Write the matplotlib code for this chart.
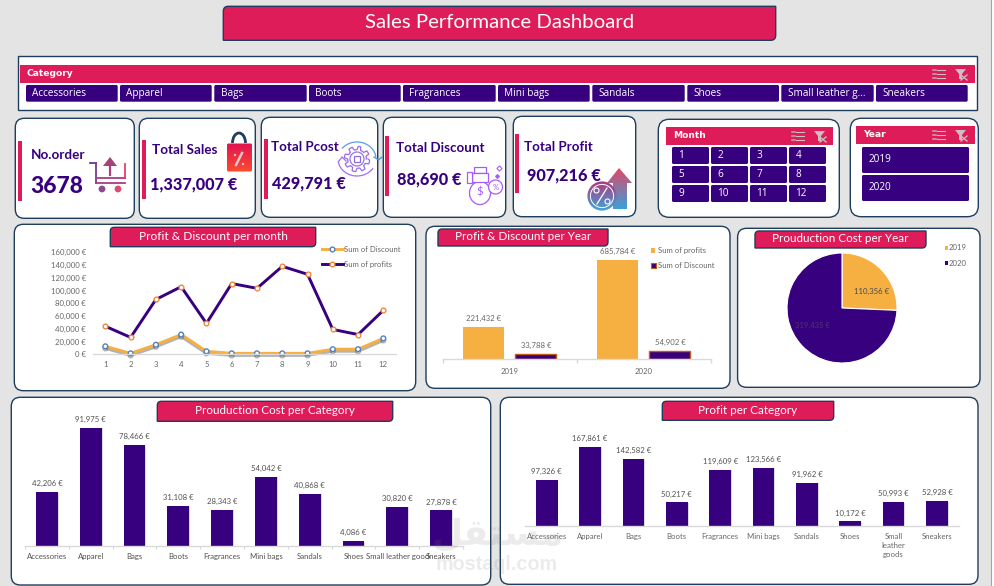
import numpy as np
import matplotlib
matplotlib.use("Agg")
import matplotlib.pyplot as plt
import matplotlib.patheffects as pe
from matplotlib.colors import LinearSegmentedColormap, to_rgb
from matplotlib.patches import FancyBboxPatch, Rectangle, Circle, Polygon, PathPatch, Arc, Ellipse
from matplotlib.path import Path
from matplotlib.ticker import FuncFormatter, FixedLocator

# ---- data -----------------------------------------------------------------
months = [1, 2, 3, 4, 5, 6, 7, 8, 9, 10, 11, 12]
month_profit = [44000, 26500, 86000, 106000, 48500, 111000, 103500, 138000, 125500, 39000, 31000, 69000]
month_discount = [12500, 1500, 15000, 31000, 4700, 1500, 1500, 1500, 1500, 8000, 8000, 25000]

years = ["2019", "2020"]
year_profit = [221432, 685784]
year_discount = [33788, 54902]
year_cost = [110356, 319435]

cost_labels = ["Accessories", "Apparel", "Bags", "Boots", "Fragrances", "Mini bags",
               "Sandals", "Shoes", "Small leather good", "Sneakers"]
category_cost = [42206, 91975, 78466, 31108, 28343, 54042, 40868, 4086, 30820, 27878]
category_profit = [97326, 167861, 142582, 50217, 119609, 123566, 91962, 10172, 50993, 52928]
profit_labels = ["Accessories", "Apparel", "Bags", "Boots", "Fragrances", "Mini bags",
                 "Sandals", "Shoes", "Small\nleather\ngoods", "Sneakers"]

slicer_categories = ["Accessories", "Apparel", "Bags", "Boots", "Fragrances", "Mini bags",
                     "Sandals", "Shoes", "Small leather g...", "Sneakers"]

kpi_orders = "3678"
kpi_sales = "1,337,007 €"
kpi_cost = "429,791 €"
kpi_discount = "88,690 €"
kpi_profit = "907,216 €"

# ---- style ----------------------------------------------------------------
W, H = 994, 586
BG = "#E4E4E4"
CRIMSON = "#DE1C5A"
PURPLE = "#37007F"
AMBER = "#F5B041"
EDGE = "#1F3D5C"
GREY = "#666666"
AXIS = "#D9D9D9"
FONT = "Lato"
BTN_FONT = "Open Sans"

plt.rcParams["font.family"] = FONT
fig = plt.figure(figsize=(W / 100, H / 100), dpi=100, facecolor=BG)


def overlay(z):
    ax = fig.add_axes([0, 0, 1, 1], zorder=z)
    ax.set_xlim(0, W)
    ax.set_ylim(H, 0)
    ax.axis("off")
    ax.patch.set_alpha(0)
    ax.autoscale(False)
    return ax


def px_axes(x0, y0, x1, y1, z=2):
    ax = fig.add_axes([x0 / W, 1 - y1 / H, (x1 - x0) / W, (y1 - y0) / H], zorder=z)
    ax.patch.set_alpha(0)
    return ax


under = overlay(0)
over = overlay(5)


def card(x0, y0, x1, y1, r=9):
    under.add_patch(FancyBboxPatch((x0, y0), x1 - x0, y1 - y0,
                                   boxstyle=f"round,pad=0,rounding_size={r}",
                                   fc="white", ec=EDGE, lw=1))


def box(ax, x0, y0, x1, y1, color, r=0):
    if r:
        ax.add_patch(FancyBboxPatch((x0, y0), x1 - x0, y1 - y0,
                                    boxstyle=f"round,pad=0,rounding_size={r}", fc=color, ec="none"))
    else:
        ax.add_patch(Rectangle((x0, y0), x1 - x0, y1 - y0, fc=color, ec="none"))


def banner(x0, y0, x1, y1, text, size, r=4):
    # Top-left and bottom-right corners are rounded, the other two are square.
    verts = [(x0 + r, y0), (x1, y0), (x1, y1 - r), (x1, y1), (x1 - r, y1),
             (x0, y1), (x0, y0 + r), (x0, y0), (x0 + r, y0)]
    codes = [Path.MOVETO, Path.LINETO, Path.LINETO, Path.CURVE3, Path.CURVE3,
             Path.LINETO, Path.LINETO, Path.CURVE3, Path.CURVE3]
    over.add_patch(PathPatch(Path(verts, codes), fc=CRIMSON, ec=EDGE, lw=1))
    over.text((x0 + x1) / 2, (y0 + y1) / 2 - 0.5, text, color="white", fontsize=size,
              ha="center", va="center")


def button(x0, y0, x1, y1, text):
    box(over, x0, y0, x1, y1, PURPLE, r=1.5)
    over.text(x0 + 6.5, (y0 + y1) / 2 - 0.3, text, color="white", fontsize=7.2,
              family=BTN_FONT, ha="left", va="center")


def slicer_icons(x_list, x_funnel, yc):
    for dy in (-4, 0, 4):
        over.plot([x_list + 4, x_list + 12], [yc + dy, yc + dy], color="#D2BCC4", lw=0.8)
        over.plot([x_list, x_list + 2.5], [yc + dy, yc + dy], color="#BFA9B1", lw=1.1)
    over.add_patch(Polygon([(x_funnel, yc - 5), (x_funnel + 11, yc - 5), (x_funnel + 7, yc),
                            (x_funnel + 7, yc + 5), (x_funnel + 4, yc + 5), (x_funnel + 4, yc)],
                           fc="#CDBFC4", ec="none"))
    over.plot([x_funnel + 6, x_funnel + 12], [yc + 1, yc + 6], color="#C9B9BF", lw=1)
    over.plot([x_funnel + 12, x_funnel + 6], [yc + 1, yc + 6], color="#C9B9BF", lw=1)


def mix(c0, c1, t):
    a, b = np.array(to_rgb(c0)), np.array(to_rgb(c1))
    return tuple(a + (b - a) * t)


def gradient_patch(patch, c0, c1, extent, horizontal=False):
    # Paint a two-colour ramp over the box and keep only what falls inside the patch.
    x0, x1, y0, y1 = extent
    ramp = np.linspace(0, 1, 64)
    ramp = ramp[None, :] if horizontal else ramp[:, None]
    cmap = LinearSegmentedColormap.from_list("ramp", [c0, c1])
    over.add_patch(patch)
    patch.set_facecolor("none")
    patch.set_edgecolor("none")
    im = over.imshow(ramp, extent=(x0, x1, y1, y0), cmap=cmap, aspect="auto", origin="upper", zorder=6)
    im.set_clip_path(patch)


# ---- page furniture -------------------------------------------------------
box(under, 991, 0, 994, H, "#FFFFFF")
under.plot([991, 991], [0, H], color="#A6A6A6", lw=0.8)
banner(223.3, 6.3, 775.7, 40.3, "Sales Performance Dashboard", 14.7, r=5)

# category slicer
under.add_patch(Rectangle((18.3, 56.3), 959, 54, fc="white", ec=EDGE, lw=1))
box(over, 20, 65, 975, 82.7, CRIMSON)
over.text(26.7, 73.7, "Category", color="white", fontsize=6.6, weight="bold",
          family="DejaVu Sans", ha="left", va="center")
slicer_icons(933, 955, 74)
button_edges = [(26, 117.7), (120, 211.7), (214.3, 306.7), (309, 400.7), (403, 495.7),
                (498, 589.7), (592.3, 684.7), (687.3, 779), (781.3, 873.7), (876, 967.7)]
for (bx0, bx1), name in zip(button_edges, slicer_categories):
    button(bx0, 85, bx1, 101.7, name)

# KPI cards
card(15.3, 118.3, 134.3, 218.3)
card(139.3, 118.3, 255.3, 218.3)
card(261.3, 117.3, 377.7, 217.3)
card(383.3, 117.3, 505.7, 217.3)
card(513.3, 116.3, 635.7, 216.7)
box(under, 18, 141, 22, 200.7, CRIMSON)
box(under, 142, 140, 146, 199.3, CRIMSON)
box(under, 264, 139, 268, 198.7, CRIMSON)
box(under, 385, 136, 389, 195.7, CRIMSON)
box(under, 515, 134, 519, 193.3, CRIMSON)

kpi_text = [
    (30.7, 155, "No.order", 9.7), (30.7, 186.5, kpi_orders, 16.4),
    (152, 150.5, "Total Sales", 9.7), (150, 184, kpi_sales, 11.7),
    (271, 147, "Total Pcost", 9.6), (272, 183.5, kpi_cost, 11.7),
    (396, 148, "Total Discount", 9.6), (397, 179, kpi_discount, 11.7),
    (524, 147, "Total Profit", 9.6), (527, 175, kpi_profit, 11.7),
]
for tx, ty, label, size in kpi_text:
    under.text(tx, ty, label, color=PURPLE, fontsize=size, weight="black" if size > 11 else "bold",
               ha="left", va="center")

# month and year slicers
card(658.3, 119.3, 839.3, 217.3, r=11)
card(850.3, 118.3, 978.3, 216.7, r=11)
box(over, 666, 127, 833, 144.7, CRIMSON)
over.text(673, 135.7, "Month", color="white", fontsize=6.6, weight="bold",
          family="DejaVu Sans", ha="left", va="center")
slicer_icons(792, 814, 136)
box(over, 856, 126, 975, 144, CRIMSON)
over.text(863, 134.7, "Year", color="white", fontsize=6.6, weight="bold",
          family="DejaVu Sans", ha="left", va="center")
slicer_icons(933, 955, 135)
col_edges = [(672, 709), (711, 748), (750, 787), (789, 826)]
row_edges = [(147, 164), (166, 183), (185, 202)]
for idx, m in enumerate(months):
    (cx0, cx1), (ry0, ry1) = col_edges[idx % 4], row_edges[idx // 4]
    button(cx0, ry0, cx1, ry1, str(m))
button(862, 147, 969, 173, years[0])
button(862, 175, 969, 201, years[1])

# ---- KPI pictograms -------------------------------------------------------
# shopping cart with an upward arrow
for (xa, ya), (xb, yb) in [((90, 163), (95.5, 163)), ((95.5, 163), (95.5, 183)),
                           ((95.5, 178), (125, 178)), ((125, 164), (125, 178)),
                           ((95.5, 183), (125, 183))]:
    over.plot([xa, xb], [ya, yb], lw=1.3, solid_capstyle="projecting",
              color=mix("#5A3A9E", "#E0406A", ((xa + xb) / 2 - 90) / 35))
over.add_patch(Polygon([(103, 166), (110, 157), (117, 166)], fc="#A8407A", ec="none"))
over.plot([110, 110], [166, 175], color="#A8407A", lw=1.6)
over.add_patch(Circle((102, 189), 3.4, fc="#8A4A90", ec="none"))
over.add_patch(Circle((118, 189), 3.4, fc="#DE4A70", ec="none"))

# shopping bag
over.add_patch(Arc((239, 143), 13, 20, theta1=180, theta2=360, color="#1F3D5C", lw=2, zorder=5))
gradient_patch(FancyBboxPatch((227, 143.5), 25, 28, boxstyle="round,pad=0,rounding_size=1.5"),
               "#E0144F", "#FF4A2E", (226, 253, 143, 172))
over.plot([236, 242], [165, 153], color="#E8C8D0", lw=1.8, zorder=7)
over.add_patch(Circle((235, 155), 1.2, fc="#E8C8D0", ec="none", zorder=7))
over.add_patch(Circle((243, 164), 1.2, fc="#E8C8D0", ec="none", zorder=7))

# gear with two circular arrows
gx, gy = 357, 159
angles = np.linspace(0, 2 * np.pi, 65)
radii = 11 + 1.7 * np.sign(np.sin(angles * 8))
over.plot(gx + radii * np.cos(angles), gy + radii * np.sin(angles), color="#9B6BE8", lw=0.9)
over.add_patch(Circle((gx, gy), 7, fc="none", ec="#8F78E0", lw=0.9))
over.add_patch(Rectangle((gx - 3, gy - 3), 6, 6, fc="none", ec="#8F6BD8", lw=0.9))
over.add_patch(Arc((gx, gy), 38, 34, theta1=215, theta2=355, color="#5C9CE6", lw=0.9, zorder=5))
over.add_patch(Arc((gx, gy), 38, 34, theta1=30, theta2=175, color="#A66CF0", lw=0.9, zorder=5))
over.plot([374, 378.5, 382], [157, 160, 157], color="#3A9AD8", lw=0.9)
over.plot([339, 342, 346], [161, 157, 161], color="#A66CF0", lw=0.9)

# money bag with coin and sparkles
MB = "#A85CF5"
over.add_patch(Ellipse((480, 193), 21, 23, fc="white", ec=MB, lw=0.9))
over.add_patch(Rectangle((474, 167), 12, 6, fc="white", ec=MB, lw=0.9))
over.add_patch(Rectangle((472, 173), 16, 9, fc="white", ec=MB, lw=0.9))
over.add_patch(Rectangle((467, 172), 4.5, 11, fc="white", ec=MB, lw=0.9))
over.text(480, 192, "$", color=MB, fontsize=8, ha="center", va="center")
over.add_patch(Circle((495.5, 187), 7, fc="white", ec=MB, lw=0.9))
over.text(495.5, 187, "%", color=MB, fontsize=5.5, ha="center", va="center")
over.plot([499], [168], marker="D", ms=2.6, mfc="none", mec=MB, mew=0.8)
over.plot([497], [175.5], marker="D", ms=1.8, color=MB)

# percent badge in front of a rising arrow
gradient_patch(PathPatch(Path([(619, 168), (632, 183), (627, 183), (627, 209), (613, 209), (613, 183),
                               (607, 183), (619, 168)], closed=True)),
               "#E0486A", "#3AA0D8", (605, 634, 168, 209))
gradient_patch(Circle((602, 196), 14.6), "#B0387E", "#3CA6DA", (587, 617, 181, 211))
over.add_patch(Circle((602, 196), 11.6, fc="none", ec="white", lw=0.7, zorder=7))
over.plot([597, 607], [204, 188], color="white", lw=0.9, zorder=7)
over.add_patch(Circle((596.5, 190.5), 2.5, fc="none", ec="white", lw=0.8, zorder=7))
over.add_patch(Circle((607.5, 201.5), 2.5, fc="none", ec="white", lw=0.8, zorder=7))

# ---- chart cards ----------------------------------------------------------
card(14.3, 224.3, 415.7, 390.7)
card(426, 226.3, 730, 388.3)
card(737.6, 228.3, 980, 387.3)
card(11.3, 397.3, 490.7, 585)
card(500.3, 397.3, 978, 584.3)
banner(110.3, 227.3, 315.7, 246.7, "Profit & Discount per month", 8.6)
banner(438, 229, 608, 246, "Profit & Discount per Year", 8.4)
banner(755, 231, 926, 248, "Prouduction Cost per Year", 8.4)
banner(157.3, 401.3, 392.7, 421.3, "Prouduction Cost per Category", 8.4)
banner(662.3, 401.3, 833.7, 420.3, "Profit per Category", 8.4)

euro = FuncFormatter(lambda v, _: f"{v:,.0f} €")
LABEL = 5.6


def bare_axes(ax):
    for side in ("top", "left", "right"):
        ax.spines[side].set_visible(False)
    ax.spines["bottom"].set_color(AXIS)
    ax.spines["bottom"].set_linewidth(1)
    ax.yaxis.set_visible(False)
    ax.tick_params(axis="x", length=0, labelsize=LABEL, labelcolor=GREY, pad=4.8)


# monthly lines
ax = px_axes(92.7, 252.3, 396, 354.3)
bare_axes(ax)
ax.set_xlim(0.5, 12.5)
ax.set_ylim(0, 160000)
ax.set_xticks(months)
ax.yaxis.set_visible(True)
ax.set_yticks(np.arange(0, 160001, 20000))
ax.yaxis.set_major_formatter(euro)
ax.tick_params(axis="y", length=0, labelsize=LABEL, labelcolor=GREY, pad=4.8)
ax.plot(months, month_discount, color=AMBER, lw=2.1, clip_on=False, marker="o", ms=3.4,
        mfc="white", mec="#4F81C7", mew=1, solid_joinstyle="round",
        path_effects=[pe.SimpleLineShadow(offset=(0, -1.5), shadow_color="#555555", alpha=0.45),
                      pe.Normal()])
ax.plot(months, month_profit, color=PURPLE, lw=2.1, clip_on=False, marker="o", ms=3.4,
        mfc="white", mec="#F0883A", mew=1)

# legend for the monthly lines
for ly, lc, mc, text in [(249.3, AMBER, "#4F81C7", "Sum of Discount"), (264.3, PURPLE, "#F0883A", "Sum of profits")]:
    over.plot([322, 343], [ly, ly], color=lc, lw=2.1, marker=None)
    over.plot([332], [ly], marker="o", ms=3.4, mfc="white", mec=mc, mew=1)
    over.text(343.5, ly, text, color=GREY, fontsize=LABEL, ha="left", va="center")

# yearly bars
ax = px_axes(442.7, 260, 710.8, 359.3)
bare_axes(ax)
ax.set_xlim(-0.5, 1.5)
ax.set_ylim(0, 685784)
ax.set_xticks([0, 1], years)
ax.xaxis.set_minor_locator(FixedLocator([-0.5, 0.5, 1.5]))
ax.tick_params(axis="x", which="minor", length=3, color=AXIS, width=1)
ax.tick_params(axis="x", which="major", pad=6)
positions = np.arange(len(years))
bars_p = ax.bar(positions - 0.195, year_profit, width=0.307, color=AMBER, clip_on=False)
bars_d = ax.bar(positions + 0.195, year_discount, width=0.307, color=PURPLE,
                edgecolor="#C55A11", linewidth=1,
                path_effects=[pe.withSimplePatchShadow(offset=(0.6, -0.6), shadow_rgbFace="#777777", alpha=0.35)])
for group in (bars_p, bars_d):
    ax.bar_label(group, fmt=lambda v: f"{v:,.0f} €", padding=3.6, fontsize=LABEL, color=GREY)

over.add_patch(Rectangle((651, 247.5), 4, 5, fc=AMBER, ec="none"))
over.add_patch(Rectangle((651, 262.5), 4.5, 5, fc=PURPLE, ec="#C55A11", lw=0.8))
over.text(657.5, 250, "Sum of profits", color=GREY, fontsize=LABEL, ha="left", va="center")
over.text(657.5, 265, "Sum of Discount", color=GREY, fontsize=LABEL, ha="left", va="center")

# yearly production cost pie
ax = px_axes(787, 253, 897, 363)
ax.pie(year_cost, colors=[AMBER, PURPLE], startangle=90, counterclock=False, radius=1,
       wedgeprops={"edgecolor": "white", "linewidth": 0.8, "clip_on": False})
ax.set_xlim(-1, 1)
ax.set_ylim(-1, 1)
ax.text(0.53, 0.30, f"{year_cost[0]:,} €", fontsize=LABEL, color="#4A4A4A", ha="center", va="center")
ax.text(-0.53, -0.31, f"{year_cost[1]:,} €", fontsize=LABEL, color="#4A3A6A", ha="center", va="center")
over.add_patch(Rectangle((944.5, 246), 3, 4, fc=AMBER, ec="none"))
over.add_patch(Rectangle((944.5, 261), 3, 4, fc=PURPLE, ec="none"))
over.text(949, 248, years[0], color=GREY, fontsize=LABEL, ha="left", va="center")
over.text(949, 263, years[1], color=GREY, fontsize=LABEL, ha="left", va="center")


# category bars
def category_chart(box_px, values, labels, ymax):
    axc = px_axes(*box_px)
    bare_axes(axc)
    axc.set_xlim(-0.5, len(values) - 0.5)
    axc.set_ylim(0, ymax)
    axc.set_xticks(range(len(values)), labels, linespacing=1.35)
    bars = axc.bar(range(len(values)), values, width=0.5, color=PURPLE, clip_on=False,
                   path_effects=[pe.withSimplePatchShadow(offset=(0.7, -0.5), shadow_rgbFace="#888888", alpha=0.3)])
    axc.bar_label(bars, fmt=lambda v: f"{v:,.0f} €", padding=3.4, fontsize=LABEL, color="#505050")
    return axc


ax = category_chart((25, 427.7, 463, 546.3), category_cost, cost_labels, max(category_cost))
ax.xaxis.set_minor_locator(FixedLocator(np.arange(-0.5, 10, 1)))
ax.tick_params(axis="x", which="minor", length=2, color=AXIS, width=0.8)
ax.tick_params(axis="x", which="major", labelcolor="#505050")
category_chart((525, 446.7, 958.7, 526.3), category_profit, profit_labels, max(category_profit))

# ---- site mark ------------------------------------------------------------
mark = overlay(8)
mark.text(497, 534, "\uFEDE\uFED8\uFE98\uFEB4\uFEE3", color="#777777", alpha=0.14, fontsize=26,
          family="DejaVu Sans", weight="bold", ha="center", va="center")
mark.text(497, 564.5, "mostaql.com", color="#777777", alpha=0.14, fontsize=14.2,
          family="Liberation Sans", weight="bold", ha="center", va="center")

fig.savefig("out.png", dpi=100, facecolor=BG)
